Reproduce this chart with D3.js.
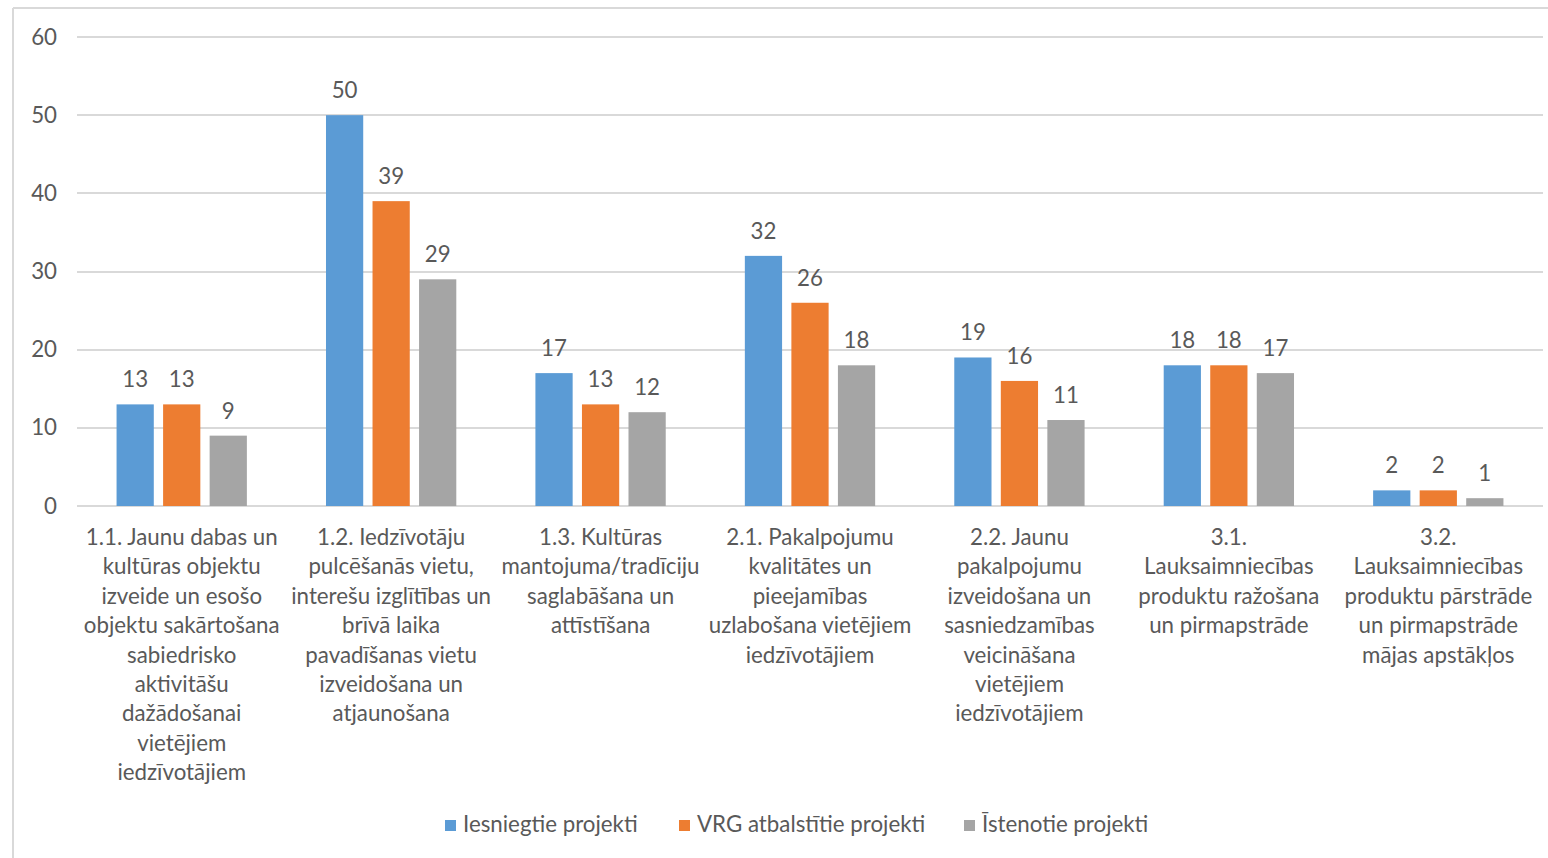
<!DOCTYPE html>
<html><head><meta charset="utf-8">
<script src="https://cdn.jsdelivr.net/npm/d3@7"></script>
<style>
html,body{margin:0;padding:0;background:#fff;}
text{font-family:Lato,"Open Sans",sans-serif;fill:#595959;}
</style></head>
<body>
<svg id="chart" width="1548" height="858"></svg>
<script>
const categories = [
  ["1.1. Jaunu dabas un","kultūras objektu","izveide un esošo","objektu sakārtošana","sabiedrisko","aktivitāšu","dažādošanai","vietējiem","iedzīvotājiem"],
  ["1.2. Iedzīvotāju","pulcēšanās vietu,","interešu izglītības un","brīvā laika","pavadīšanas vietu","izveidošana un","atjaunošana"],
  ["1.3. Kultūras","mantojuma/tradīciju","saglabāšana un","attīstīšana"],
  ["2.1. Pakalpojumu","kvalitātes un","pieejamības","uzlabošana vietējiem","iedzīvotājiem"],
  ["2.2. Jaunu","pakalpojumu","izveidošana un","sasniedzamības","veicināšana","vietējiem","iedzīvotājiem"],
  ["3.1.","Lauksaimniecības","produktu ražošana","un pirmapstrāde"],
  ["3.2.","Lauksaimniecības","produktu pārstrāde","un pirmapstrāde","mājas apstākļos"]
];
const seriesNames = ["Iesniegtie projekti","VRG atbalstītie projekti","Īstenotie projekti"];
const iesniegtie = [13,50,17,32,19,18,2];
const vrg = [13,39,13,26,16,18,2];
const istenotie = [9,29,12,18,11,17,1];
const yTicks = [0,10,20,30,40,50,60];
const colors = ["#5B9BD5","#ED7D31","#A5A5A5"];

const series = [iesniegtie, vrg, istenotie];
const svg = d3.select("#chart");
const FS = "22.3px";

// outer border
svg.append("line").attr("x1",13).attr("x2",1548).attr("y1",8).attr("y2",8).attr("stroke","#d9d9d9").attr("stroke-width",2);
svg.append("line").attr("x1",13).attr("x2",13).attr("y1",8).attr("y2",858).attr("stroke","#d9d9d9").attr("stroke-width",2);

const idx = d3.range(categories.length);
const x0 = d3.scaleBand().domain(idx).range([77,1543]).paddingInner(0).paddingOuter(0);
const x1 = d3.scaleBand().domain(d3.range(3)).range([0,x0.bandwidth()]).paddingInner(0.2).paddingOuter(0.85);
const y = d3.scaleLinear().domain([0,60]).range([506,37]);

// gridlines
svg.append("g").selectAll("line").data(yTicks).join("line")
  .attr("x1",77).attr("x2",1543)
  .attr("y1",d=>Math.round(y(d))).attr("y2",d=>Math.round(y(d)))
  .attr("stroke","#d9d9d9").attr("stroke-width",2);

// y axis labels
const yAxis = d3.axisLeft(y).tickValues(yTicks).tickSize(0).tickPadding(0);
const gy = svg.append("g").attr("transform","translate(57,0)").call(yAxis);
gy.select(".domain").remove();
gy.selectAll("text").attr("font-size",FS).attr("fill","#595959").style("font-family","Lato, sans-serif");

// bars
const groups = svg.append("g").selectAll("g").data(idx).join("g")
  .attr("transform",i=>`translate(${x0(i)},0)`);
groups.selectAll("rect").data(i=>series.map((s,k)=>({k,v:s[i]}))).join("rect")
  .attr("x",d=>x1(d.k)).attr("width",x1.bandwidth())
  .attr("y",d=>y(d.v)).attr("height",d=>y(0)-y(d.v))
  .attr("fill",d=>colors[d.k]);
groups.selectAll("text.val").data(i=>series.map((s,k)=>({k,v:s[i]}))).join("text")
  .attr("class","val")
  .attr("x",d=>x1(d.k)+x1.bandwidth()/2).attr("y",d=>y(d.v)-17)
  .attr("text-anchor","middle").attr("font-size",FS).text(d=>d.v);

// category labels
const lab = svg.append("g").selectAll("text").data(idx).join("text")
  .attr("text-anchor","middle").attr("font-size",FS)
  .attr("transform",i=>`translate(${x0(i)+x0.bandwidth()/2},545)`);
lab.selectAll("tspan").data(i=>categories[i]).join("tspan")
  .attr("x",0).attr("dy",(d,j)=>j===0?0:29.4).text(d=>d);

// legend
const legX = [445,679,964];
const leg = svg.append("g").selectAll("g").data(seriesNames).join("g")
  .attr("transform",(d,i)=>`translate(${legX[i]},820)`);
leg.append("rect").attr("width",11).attr("height",11).attr("fill",(d,i)=>colors[i]);
leg.append("text").attr("x",18).attr("y",12).attr("font-size",FS).text(d=>d);
</script>
</body></html>
